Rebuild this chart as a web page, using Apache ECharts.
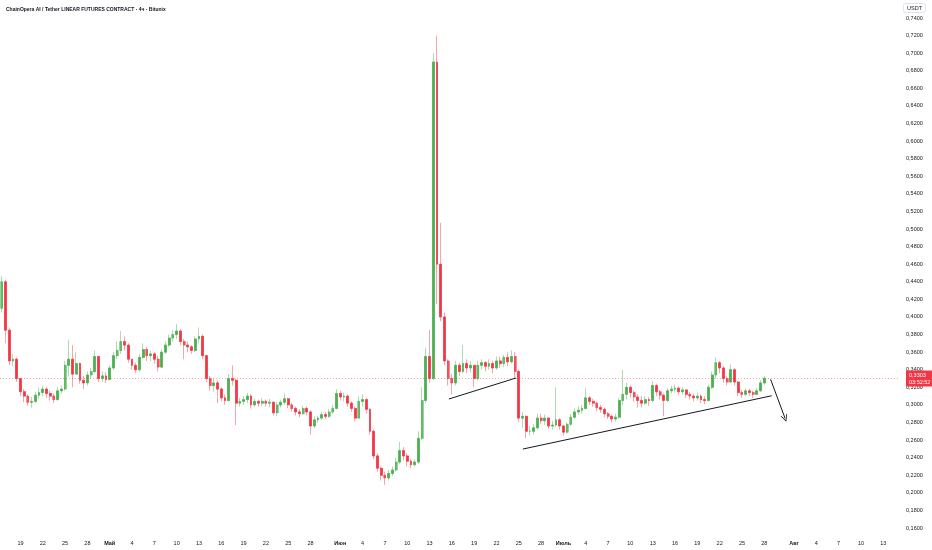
<!DOCTYPE html>
<html>
<head>
<meta charset="utf-8">
<script src="https://cdn.jsdelivr.net/npm/echarts@6/dist/echarts.min.js"></script>
<style>
  html, body { margin: 0; padding: 0; background: #ffffff; }
  #chart { width: 932px; height: 550px; }
</style>
</head>
<body>
<div id="chart"></div>
<script>
// 12h candles, first slot = 16 Apr 12:00
const startTime = Date.UTC(2025, 3, 16, 12);
const slotCount = 242;
const monthNames = ['Янв', 'Фев', 'Мар', 'Апр', 'Май', 'Июн', 'Июль', 'Авг', 'Сен', 'Окт', 'Ноя', 'Дек'];
const dayTicks = [1, 4, 7, 10, 13, 16, 19, 22, 25, 28];

const firstOpen = 0.410;
const candleClose = [
  0.440, 0.385, 0.350, 0.352, 0.330, 0.315, 0.310, 0.303, 0.304, 0.311,
  0.314, 0.318, 0.313, 0.310, 0.306, 0.316, 0.318, 0.345, 0.352, 0.335,
  0.347, 0.328, 0.325, 0.334, 0.338, 0.355, 0.330, 0.333, 0.329, 0.342,
  0.356, 0.362, 0.372, 0.368, 0.352, 0.345, 0.340, 0.354, 0.363, 0.356,
  0.358, 0.352, 0.343, 0.360, 0.368, 0.376, 0.380, 0.384, 0.372, 0.368,
  0.366, 0.362, 0.375, 0.378, 0.356, 0.330, 0.322, 0.325, 0.318, 0.308,
  0.305, 0.330, 0.328, 0.302, 0.304, 0.306, 0.310, 0.300, 0.304, 0.302,
  0.304, 0.302, 0.303, 0.291, 0.300, 0.303, 0.307, 0.300, 0.296, 0.292,
  0.290, 0.296, 0.292, 0.276, 0.283, 0.285, 0.289, 0.287, 0.292, 0.296,
  0.313, 0.309, 0.310, 0.302, 0.296, 0.285, 0.304, 0.306, 0.295, 0.270,
  0.242, 0.228, 0.220, 0.217, 0.222, 0.226, 0.235, 0.248, 0.242, 0.236,
  0.232, 0.235, 0.262, 0.305, 0.355, 0.330, 0.690, 0.460, 0.400, 0.350,
  0.330, 0.325, 0.345, 0.338, 0.347, 0.342, 0.345, 0.330, 0.345, 0.348,
  0.344, 0.347, 0.342, 0.350, 0.347, 0.354, 0.349, 0.355, 0.338, 0.285,
  0.287, 0.270, 0.270, 0.274, 0.285, 0.282, 0.285, 0.276, 0.277, 0.283,
  0.276, 0.269, 0.278, 0.286, 0.292, 0.294, 0.296, 0.308, 0.304, 0.302,
  0.297, 0.295, 0.290, 0.287, 0.284, 0.286, 0.305, 0.312, 0.320, 0.314,
  0.309, 0.305, 0.302, 0.306, 0.305, 0.322, 0.315, 0.311, 0.305, 0.316,
  0.318, 0.319, 0.315, 0.317, 0.312, 0.310, 0.308, 0.310, 0.306, 0.305,
  0.320, 0.334, 0.348, 0.342, 0.330, 0.326, 0.340, 0.326, 0.314, 0.312,
  0.316, 0.314, 0.312, 0.316, 0.325, 0.3303
];
const candleHigh = [
  0.446, 0.442, 0.388, 0.358, 0.354, 0.330, 0.318, 0.312, 0.309, 0.315,
  0.320, 0.322, 0.320, 0.316, 0.313, 0.320, 0.322, 0.350, 0.374, 0.368,
  0.360, 0.348, 0.333, 0.338, 0.342, 0.362, 0.356, 0.338, 0.337, 0.345,
  0.360, 0.372, 0.384, 0.378, 0.370, 0.352, 0.348, 0.358, 0.370, 0.366,
  0.362, 0.360, 0.356, 0.363, 0.372, 0.380, 0.385, 0.392, 0.386, 0.375,
  0.372, 0.368, 0.378, 0.388, 0.380, 0.357, 0.333, 0.330, 0.328, 0.320,
  0.312, 0.335, 0.345, 0.330, 0.308, 0.310, 0.314, 0.312, 0.307, 0.306,
  0.308, 0.306, 0.307, 0.304, 0.303, 0.306, 0.313, 0.308, 0.302, 0.298,
  0.295, 0.299, 0.298, 0.294, 0.287, 0.288, 0.292, 0.292, 0.295, 0.300,
  0.318, 0.316, 0.314, 0.312, 0.304, 0.298, 0.310, 0.312, 0.308, 0.296,
  0.272, 0.245, 0.230, 0.224, 0.226, 0.230, 0.240, 0.258, 0.252, 0.245,
  0.238, 0.238, 0.270, 0.320, 0.365, 0.385, 0.700, 0.720, 0.507, 0.405,
  0.352, 0.335, 0.350, 0.348, 0.368, 0.352, 0.350, 0.345, 0.350, 0.352,
  0.350, 0.352, 0.350, 0.355, 0.355, 0.357, 0.360, 0.362, 0.360, 0.340,
  0.292, 0.288, 0.276, 0.278, 0.290, 0.290, 0.289, 0.286, 0.282, 0.320,
  0.285, 0.277, 0.280, 0.290, 0.296, 0.298, 0.300, 0.319, 0.310, 0.307,
  0.304, 0.300, 0.297, 0.292, 0.289, 0.290, 0.308, 0.340, 0.325, 0.322,
  0.316, 0.312, 0.310, 0.310, 0.309, 0.327, 0.324, 0.317, 0.313, 0.319,
  0.322, 0.323, 0.321, 0.320, 0.318, 0.315, 0.313, 0.314, 0.312, 0.310,
  0.323, 0.338, 0.354, 0.350, 0.344, 0.333, 0.346, 0.342, 0.327, 0.317,
  0.319, 0.318, 0.316, 0.319, 0.328, 0.333
];
const candleLow = [
  0.405, 0.370, 0.345, 0.344, 0.326, 0.310, 0.303, 0.299, 0.297, 0.302,
  0.307, 0.310, 0.308, 0.305, 0.302, 0.305, 0.313, 0.316, 0.332, 0.320,
  0.335, 0.324, 0.318, 0.322, 0.330, 0.336, 0.326, 0.326, 0.325, 0.328,
  0.340, 0.352, 0.358, 0.362, 0.348, 0.340, 0.336, 0.338, 0.352, 0.350,
  0.350, 0.347, 0.338, 0.342, 0.358, 0.366, 0.372, 0.375, 0.368, 0.352,
  0.360, 0.358, 0.360, 0.370, 0.352, 0.326, 0.316, 0.315, 0.302, 0.304,
  0.300, 0.304, 0.322, 0.277, 0.298, 0.300, 0.302, 0.296, 0.298, 0.298,
  0.299, 0.298, 0.297, 0.288, 0.287, 0.297, 0.300, 0.296, 0.292, 0.288,
  0.286, 0.289, 0.288, 0.266, 0.274, 0.280, 0.283, 0.284, 0.285, 0.290,
  0.295, 0.305, 0.304, 0.298, 0.292, 0.281, 0.284, 0.298, 0.290, 0.266,
  0.238, 0.224, 0.214, 0.209, 0.214, 0.219, 0.224, 0.233, 0.237, 0.230,
  0.228, 0.230, 0.233, 0.260, 0.302, 0.325, 0.328, 0.415, 0.395, 0.345,
  0.322, 0.312, 0.322, 0.333, 0.336, 0.336, 0.337, 0.320, 0.328, 0.340,
  0.338, 0.340, 0.336, 0.340, 0.342, 0.343, 0.344, 0.347, 0.330, 0.280,
  0.274, 0.262, 0.265, 0.266, 0.272, 0.278, 0.277, 0.273, 0.272, 0.275,
  0.272, 0.265, 0.267, 0.276, 0.284, 0.289, 0.290, 0.295, 0.300, 0.298,
  0.293, 0.291, 0.286, 0.284, 0.280, 0.281, 0.284, 0.300, 0.306, 0.308,
  0.304, 0.297, 0.297, 0.300, 0.299, 0.303, 0.310, 0.306, 0.287, 0.303,
  0.313, 0.314, 0.311, 0.312, 0.308, 0.306, 0.304, 0.305, 0.302, 0.301,
  0.304, 0.318, 0.330, 0.336, 0.325, 0.322, 0.325, 0.322, 0.310, 0.308,
  0.310, 0.310, 0.308, 0.311, 0.315, 0.323
];

const lastPrice = 0.3303;
const countdown = '03:52:52';
// hand-drawn lines, [slot index, price]
const trendUpper = [[120.2, 0.3067], [138.25, 0.3306]];
const trendLower = [[140.1, 0.2498], [207.0, 0.3104]];
const arrowDown = [[206.7, 0.3291], [210.6, 0.2847]];

const upColor = '#4caf50';
const downColor = '#f23645';

let categories = [];
for (let i = 0; i < slotCount; i++) {
  const d = new Date(startTime + i * 12 * 3600 * 1000);
  categories.push(d.getUTCMonth() + '|' + d.getUTCDate() + '|' + d.getUTCHours());
}

let wickData = [];
let bodyData = [];
candleClose.forEach((c, i) => {
  const o = i === 0 ? firstOpen : candleClose[i - 1];
  wickData.push([o, c, candleLow[i], candleHigh[i]]);
  bodyData.push([o, c, Math.min(o, c), Math.max(o, c)]);
});

let myChart = echarts.init(document.getElementById('chart'));
let option = {
  animation: false,
  backgroundColor: '#ffffff',
  textStyle: { fontFamily: 'Liberation Sans' },
  title: [
    {
      text: 'ChainOpera AI / Tether LINEAR FUTURES CONTRACT · 4ч · Bitunix',
      left: 1, top: 2,
      textStyle: { fontSize: 5, fontWeight: 'bold', color: '#131722', fontFamily: 'Liberation Sans' }
    },
    {
      text: 'USDT',
      right: 6, top: 3,
      padding: [2, 4],
      borderColor: '#e0e3eb', borderWidth: 1, borderRadius: 2,
      textStyle: { fontSize: 5.5, fontWeight: 'normal', color: '#131722', fontFamily: 'Liberation Sans' }
    }
  ],
  grid: { left: 0, right: 32, top: 18, bottom: 22, outerBoundsMode: 'none' },
  xAxis: [
    {
      type: 'category',
      data: categories,
      boundaryGap: true,
      axisLine: { show: false },
      axisTick: { show: false },
      splitLine: { show: false },
      axisLabel: {
        margin: 12,
        fontSize: 5.5,
        color: '#131722',
        interval: function (idx, val) {
          const p = val.split('|').map(Number);
          return p[2] === 0 && dayTicks.indexOf(p[1]) >= 0;
        },
        formatter: function (val) {
          const p = val.split('|').map(Number);
          return p[1] === 1 ? '{m|' + monthNames[p[0]] + '}' : String(p[1]);
        },
        rich: { m: { fontSize: 5.5, fontWeight: 'bold', color: '#131722' } }
      }
    },
    { type: 'value', show: false, min: -0.5, max: slotCount - 0.5 }
  ],
  yAxis: {
    type: 'value',
    position: 'right',
    min: 0.16,
    max: 0.74,
    interval: 0.02,
    axisLine: { show: false },
    axisTick: { show: false },
    splitLine: { show: false },
    axisLabel: {
      margin: 6,
      fontSize: 5.5,
      color: '#131722',
      formatter: v => v.toFixed(4).replace('.', ',')
    }
  },
  series: [
    {
      name: 'wicks',
      type: 'candlestick',
      data: wickData,
      barWidth: 2.4,
      silent: true,
      itemStyle: {
        color: 'rgba(76,175,80,0.4)', color0: 'rgba(242,54,69,0.4)',
        borderColor: 'rgba(76,175,80,0.45)', borderColor0: 'rgba(242,54,69,0.45)',
        borderWidth: 1
      }
    },
    {
      name: 'bodies',
      type: 'candlestick',
      data: bodyData,
      barWidth: 2.2,
      silent: true,
      itemStyle: {
        color: upColor, color0: downColor,
        borderColor: upColor, borderColor0: downColor,
        borderWidth: 0.5
      },
      markLine: {
        silent: true,
        symbol: 'none',
        data: [{ yAxis: lastPrice }],
        lineStyle: { type: [1, 2], color: 'rgba(242,54,69,0.45)', width: 1 },
        label: {
          position: 'end',
          distance: 6,
          formatter: () => lastPrice.toFixed(4).replace('.', ',') + '\n' + countdown,
          backgroundColor: downColor,
          color: '#ffffff',
          fontSize: 5.5,
          lineHeight: 7,
          padding: [1, 3]
        }
      }
    },
    {
      type: 'line',
      xAxisIndex: 1,
      data: trendUpper,
      symbol: 'none',
      silent: true,
      z: 5,
      lineStyle: { color: '#131722', width: 1 }
    },
    {
      type: 'line',
      xAxisIndex: 1,
      data: trendLower,
      symbol: 'none',
      silent: true,
      z: 5,
      lineStyle: { color: '#131722', width: 1 },
      markLine: {
        silent: true,
        symbol: ['none', 'path://M5,0L10,9L8.8,9L5,2.2L1.2,9L0,9Z'],
        symbolSize: [7, 7],
        label: { show: false },
        lineStyle: { color: '#131722', width: 1, type: 'solid' },
        data: [[{ coord: arrowDown[0] }, { coord: arrowDown[1] }]]
      }
    }
  ]
};
option && myChart.setOption(option);
</script>
</body>
</html>
